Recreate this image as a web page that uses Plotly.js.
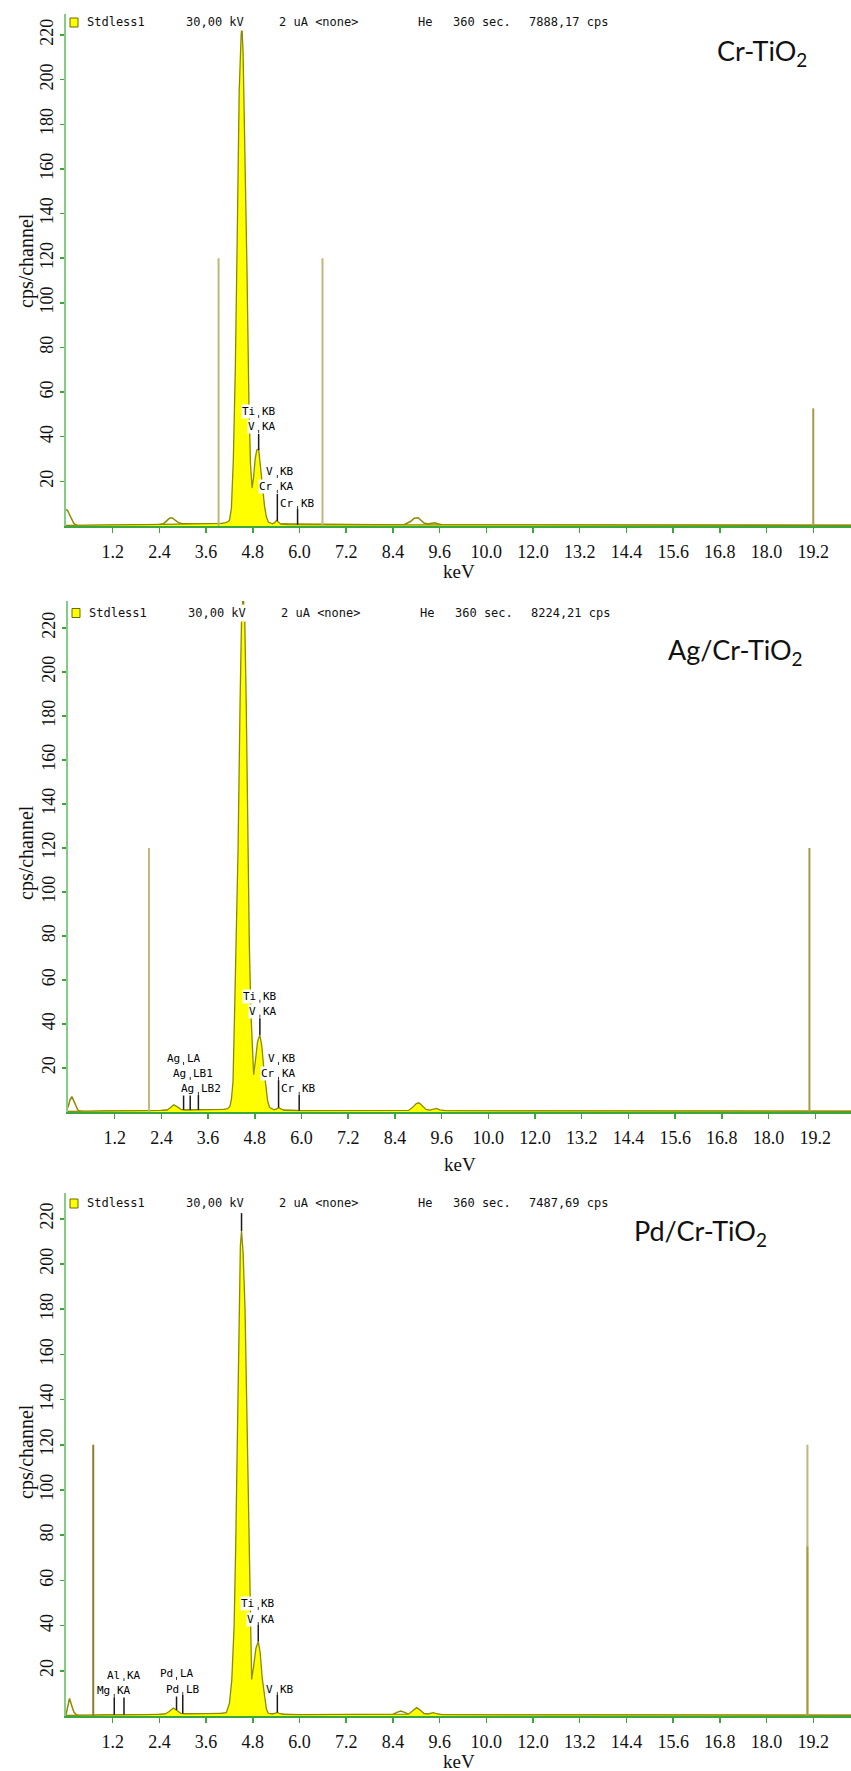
<!DOCTYPE html>
<html>
<head>
<meta charset="utf-8">
<script src="https://cdn.plot.ly/plotly-3.0.1.min.js"></script>
<style>html,body{margin:0;padding:0;background:#fff;}#chart{width:851px;height:1771px;}</style>
</head>
<body>
<div id="chart"></div>
<script>
// ---------------- DATA ----------------
const tickKeV  = [1.2, 2.4, 3.6, 4.8, 6.0, 7.2, 8.4, 9.6, 10.8, 12.0, 13.2, 14.4, 15.6, 16.8, 18.0, 19.2];
const tickText = ['1.2','2.4','3.6','4.8','6.0','7.2','8.4','9.6','10.0','12.0','13.2','14.4','15.6','16.8','18.0','19.2'];
const yTickVals = [20, 40, 60, 80, 100, 120, 140, 160, 180, 200, 220];

// Panel 1 : Cr-TiO2
const crFillKeV = [0.0,0.3,1.0,2.0,2.5,3.0,3.6,4.0,4.1,4.15,4.2,4.25,4.3,4.35,4.4,4.45,4.5,4.52,4.55,4.6,4.65,4.7,4.74,4.78,4.82,4.86,4.9,4.95,5.0,5.05,5.1,5.15,5.2,5.3,5.36,5.41,5.46,5.52,5.7,6.5,8.0,10.0,14.0,19.2,20.2];
const crFillCps = [0.3,0.3,0.5,0.6,0.7,0.8,1.0,1.2,1.5,1.8,2.5,8,30,70,130,195,220,224,212,170,115,55,28,17,22,30,34,34.5,26,16,9,4,1.8,1.0,1.5,2.5,1.8,0.8,0.6,0.5,0.5,0.5,0.4,0.3,0.3];
const crBgKeV = [0.0,0.04,0.08,0.12,0.16,0.2,0.25,0.3,0.4,0.6,1.0,1.5,2.0,2.4,2.5,2.58,2.65,2.72,2.8,2.88,2.96,3.1,3.6,4.0,4.5,5.0,5.5,6.0,7.0,8.0,8.7,8.85,8.95,9.05,9.12,9.2,9.3,9.4,9.47,9.55,9.65,10.0,12.0,15.0,19.2,20.2];
const crBgCps  = [7.5,7.0,5.5,3.8,2.2,1.2,0.5,0.2,0.1,0.2,0.4,0.5,0.6,0.7,1.0,2.2,3.4,3.7,2.8,1.6,1.1,1.0,1.0,1.1,1.1,1.0,0.9,0.7,0.6,0.6,0.7,2.0,3.5,3.7,2.6,1.3,0.9,1.1,1.4,1.0,0.6,0.5,0.5,0.4,0.3,0.3];
const crRoiKeV = [3.92, 6.59, 19.2];
const crRoiCps = [120, 120, 52.7];
const crMarkKeV  = [4.95, 5.43, 5.95];
const crMarkBase = [34, 2.3, 0.6];
const crMarkTop  = [41.3, 14.4, 7.6];
const crLabElem = ['Ti','V','V','Cr','Cr'];
const crLabLine = ['KB','KA','KB','KA','KB'];
const crLabKeV  = [4.95, 4.95, 5.43, 5.43, 5.95];
const crLabCps  = [51.1, 44.4, 24.2, 17.5, 10.3];
const crHeader  = ['Stdless1','30,00 kV','2 uA <none>','He','360 sec.','7888,17 cps'];

// Panel 2 : Ag/Cr-TiO2
const agFillKeV = [0.0,0.5,1.0,2.0,2.4,2.55,2.62,2.72,2.82,2.9,3.0,3.6,4.0,4.1,4.16,4.2,4.24,4.28,4.32,4.37,4.42,4.46,4.5,4.54,4.58,4.62,4.66,4.7,4.74,4.77,4.82,4.87,4.93,4.98,5.03,5.08,5.13,5.18,5.3,5.36,5.41,5.47,5.55,6.0,8.0,8.75,8.85,8.95,9.02,9.1,9.2,9.3,9.4,9.47,9.55,9.7,12.0,16.0,20.2];
const agFillCps = [0.3,0.3,0.5,0.6,0.7,0.9,1.8,3.3,2.2,1.2,0.9,1.0,1.2,1.5,2.5,6,14,45,75,120,185,225,235,225,185,120,75,45,25,17,24,32,35,30,20,11,5,2,1.0,1.4,2.0,1.4,0.8,0.6,0.6,0.7,2.0,3.8,4.2,3.0,1.2,0.9,1.3,1.6,1.0,0.6,0.5,0.4,0.3];
const agBgKeV = [0.0,0.05,0.1,0.15,0.2,0.25,0.3,0.4,0.6,1.0,2.0,2.5,3.0,3.6,4.0,4.5,5.0,5.5,6.0,8.0,10.0,14.0,19.2,20.2];
const agBgCps = [2.0,5.5,7.0,5.0,2.5,1.0,0.4,0.2,0.2,0.4,0.5,0.8,0.9,1.0,1.1,1.1,1.0,0.8,0.6,0.5,0.5,0.4,0.3,0.3];
const agRoiKeV = [2.08, 19.05];
const agRoiCps = [120, 120];
const agMarkKeV  = [4.93, 5.41, 5.94, 2.97, 3.14, 3.35];
const agMarkBase = [35, 2.0, 0.6, 1.0, 0.9, 0.9];
const agMarkTop  = [42.6, 14.5, 7.7, 7.7, 7.7, 7.7];
const agLabElem = ['Ti','V','V','Cr','Cr','Ag','Ag','Ag'];
const agLabLine = ['KB','KA','KB','KA','KB','LA','LB1','LB2'];
const agLabKeV  = [4.93, 4.93, 5.41, 5.41, 5.94, 2.97, 3.14, 3.35];
const agLabCps  = [52.4, 45.6, 24.1, 17.3, 10.5, 24.1, 17.3, 10.5];
const agHeader  = ['Stdless1','30,00 kV','2 uA <none>','He','360 sec.','8224,21 cps'];

// Panel 3 : Pd/Cr-TiO2
const pdFillKeV = [0.0,0.5,1.0,2.0,2.4,2.55,2.65,2.76,2.86,2.95,3.05,3.6,4.0,4.12,4.2,4.26,4.32,4.36,4.4,4.44,4.48,4.51,4.55,4.6,4.66,4.7,4.73,4.75,4.77,4.82,4.88,4.94,4.99,5.04,5.1,5.15,5.2,5.3,5.38,5.43,5.5,5.6,6.0,8.0,8.8,8.9,9.01,9.1,9.2,9.3,9.38,9.44,9.52,9.65,12.0,16.0,20.2];
const pdFillCps = [0.3,0.3,0.5,0.6,0.7,0.9,2.0,3.5,2.3,1.2,1.0,1.0,1.2,1.5,5.7,16,40,75,120,180,208,214.6,205,180,120,75,50,28,16.2,22,30,33,28,17,8,3,1.2,0.9,1.3,1.6,1.0,0.7,0.6,0.6,0.8,2.2,3.7,2.6,1.1,0.9,1.2,1.5,1.0,0.6,0.5,0.4,0.3];
const pdBgKeV = [0.0,0.04,0.09,0.14,0.2,0.27,0.35,0.6,1.0,2.0,3.0,4.0,5.0,6.0,8.0,8.4,8.5,8.6,8.7,8.8,9.0,10.0,14.0,19.2,20.2];
const pdBgCps = [0.5,4.5,7.8,5.0,1.8,0.4,0.2,0.2,0.4,0.5,0.9,1.1,1.0,0.6,0.6,0.7,1.6,2.2,1.6,0.8,0.7,0.5,0.4,0.3,0.3];
const pdRoiKeV = [0.70, 19.05, 19.05];
const pdRoiCps = [120, 120, 75];
const pdMarkKeV  = [4.51, 4.94, 5.43, 2.84, 3.00, 1.49, 1.24];
const pdMarkBase = [214.6, 33, 1.6, 2.6, 1.1, 0.5, 0.5];
const pdMarkTop  = [222.5, 40.3, 9.3, 10.0, 9.3, 10.8, 8.3];
const pdLabElem = ['Ti','V','V','Pd','Pd','Al','Mg'];
const pdLabLine = ['KB','KA','KB','LA','LB','KA','KA'];
const pdLabKeV  = [4.94, 4.94, 5.43, 2.84, 3.00, 1.49, 1.24];
const pdLabCps  = [49.6, 42.9, 11.9, 18.6, 11.9, 18.1, 11.1];
const pdHeader  = ['Stdless1','30,00 kV','2 uA <none>','He','360 sec.','7487,69 cps'];

const sampleNames = ['Cr-TiO<sub>2</sub>', 'Ag/Cr-TiO<sub>2</sub>', 'Pd/Cr-TiO<sub>2</sub>'];

// ---------------- LAYOUT / STYLE ----------------
const W = 851, H = 1771;
const px = v => v / W;
const py = v => 1 - v / H;

const panels = [
  {top: 14,   bottom: 526,  left: 66,   yMax: 229.4, headerY: 22,     sqTop: 18,   titleY: 261,  kevY: 571,  sample: [762, 53],
   fillE: crFillKeV, fillC: crFillCps, bgE: crBgKeV, bgC: crBgCps, roiE: crRoiKeV, roiC: crRoiCps, roiColors: ['#bdb97a','#bdb97a','#a39d45'],
   mE: crMarkKeV, mB: crMarkBase, mT: crMarkTop, lEl: crLabElem, lLn: crLabLine, lE: crLabKeV, lC: crLabCps, header: crHeader},
  {top: 601,  bottom: 1112, left: 68,   yMax: 232.3, headerY: 612.5,  sqTop: 608.5, titleY: 853,  kevY: 1164, sample: [735, 651],
   fillE: agFillKeV, fillC: agFillCps, bgE: agBgKeV, bgC: agBgCps, roiE: agRoiKeV, roiC: agRoiCps, roiColors: ['#bdb97a','#a39d45'],
   mE: agMarkKeV, mB: agMarkBase, mT: agMarkTop, lEl: agLabElem, lLn: agLabLine, lE: agLabKeV, lC: agLabCps, header: agHeader},
  {top: 1193, bottom: 1716, left: 66,   yMax: 231.4, headerY: 1203.3, sqTop: 1199, titleY: 1452, kevY: 1761, sample: [700, 1232],
   fillE: pdFillKeV, fillC: pdFillCps, bgE: pdBgKeV, bgC: pdBgCps, roiE: pdRoiKeV, roiC: pdRoiCps, roiColors: ['#8a7f2c','#bdb97a','#a39d45'],
   mE: pdMarkKeV, mB: pdMarkBase, mT: pdMarkTop, lEl: pdLabElem, lLn: pdLabLine, lE: pdLabKeV, lC: pdLabCps, header: pdHeader}
];
const headerX = [85, 184, 277, 416, 451, 527];
const keVPerPx = 1 / 38.92;

const OLIVE = '#8c8a00';
const serif = 'Liberation Serif, Times New Roman, serif';
const mono = 'DejaVu Sans Mono, monospace';

const traces = [];
const layout = {
  width: W, height: H,
  margin: {l: 0, r: 0, t: 0, b: 0},
  paper_bgcolor: '#fff', plot_bgcolor: '#fff',
  showlegend: false,
  annotations: [], shapes: []
};

panels.forEach((p, i) => {
  const n = i === 0 ? '' : String(i + 1);
  const xa = 'x' + n, ya = 'y' + n;
  const xMax = (W - p.left) * keVPerPx;

  layout['xaxis' + n] = {
    domain: [px(p.left), 1], range: [0, xMax], anchor: ya,
    tickmode: 'array', tickvals: tickKeV, ticktext: tickText,
    ticks: 'outside', ticklen: 5, tickwidth: 1.5, tickcolor: '#3aa83a',
    showline: true, linecolor: '#3aa83a', linewidth: 1.5,
    showgrid: false, zeroline: false, fixedrange: true,
    tickfont: {family: serif, size: 18, color: '#111'},
    ticklabelstandoff: 4
  };
  layout['yaxis' + n] = {
    domain: [py(p.bottom), py(p.top)], range: [0, p.yMax], anchor: xa,
    tickmode: 'array', tickvals: yTickVals, tickangle: -90,
    ticks: 'outside', ticklen: 4, tickwidth: 1.5, tickcolor: '#3aa83a',
    showline: true, linecolor: '#86cc86', linewidth: 2,
    showgrid: false, zeroline: false, fixedrange: true,
    tickfont: {family: serif, size: 18, color: '#111'}
  };

  // background / outline spectrum
  traces.push({x: p.bgE, y: p.bgC, xaxis: xa, yaxis: ya, mode: 'lines', line: {color: OLIVE, width: 1.5}, hoverinfo: 'skip'});
  // filled spectrum
  traces.push({x: p.fillE, y: p.fillC, xaxis: xa, yaxis: ya, mode: 'lines', fill: 'tozeroy', fillcolor: '#ffff00',
               line: {color: OLIVE, width: 1.3}, hoverinfo: 'skip'});
  // ROI cursor lines
  p.roiE.forEach((e, k) => {
    traces.push({x: [e, e], y: [0, p.roiC[k]], xaxis: xa, yaxis: ya, mode: 'lines',
                 line: {color: p.roiColors[k], width: 2}, hoverinfo: 'skip'});
  });
  // KLM marker lines
  const mx = [], my = [];
  p.mE.forEach((e, k) => { mx.push(e, e, null); my.push(p.mB[k], p.mT[k], null); });
  traces.push({x: mx, y: my, xaxis: xa, yaxis: ya, mode: 'lines', line: {color: '#1a1a1a', width: 1.5}, hoverinfo: 'skip'});

  // marker labels
  p.lE.forEach((e, k) => {
    layout.annotations.push({xref: xa, yref: ya, x: e, y: p.lC[k], text: p.lEl[k], showarrow: false,
      xanchor: 'right', yanchor: 'middle', xshift: -3, font: {family: mono, size: 11, color: '#000'}, bgcolor: '#fff', borderpad: 0});
    layout.annotations.push({xref: xa, yref: ya, x: e, y: p.lC[k], text: p.lLn[k], showarrow: false,
      xanchor: 'left', yanchor: 'middle', xshift: 2, font: {family: mono, size: 11, color: '#000'}, bgcolor: '#fff', borderpad: 0});
    // small tick at the marker energy, at the foot of the label
    layout.shapes.push({type: 'line', xref: xa, yref: ya, xsizemode: 'scaled', ysizemode: 'pixel',
      x0: e, x1: e, yanchor: p.lC[k], y0: -3, y1: -6, line: {color: '#333', width: 1}});
  });

  // header line
  p.header.forEach((t, k) => {
    layout.annotations.push({xref: 'paper', yref: 'paper', x: px(headerX[k] + (i === 1 ? 2 : 0)), y: py(p.headerY), text: t,
      showarrow: false, xanchor: 'left', yanchor: 'middle', font: {family: mono, size: 12, color: '#111'}, bgcolor: '#fff', borderpad: 1});
  });
  const sqL = 70 + (i === 1 ? 2 : 0);
  layout.shapes.push({type: 'rect', xref: 'paper', yref: 'paper', x0: px(sqL), x1: px(sqL + 8), y0: py(p.sqTop), y1: py(p.sqTop + 9),
                      fillcolor: '#ffff00', line: {color: '#6b6b00', width: 1}});

  // axis titles
  layout.annotations.push({xref: 'paper', yref: 'paper', x: px(26), y: py(p.titleY), text: 'cps/channel', textangle: -90,
    showarrow: false, xanchor: 'center', yanchor: 'middle', font: {family: serif, size: 20, color: '#111'}});
  layout.annotations.push({xref: 'paper', yref: 'paper', x: px((p.left + W) / 2), y: py(p.kevY), text: 'keV',
    showarrow: false, xanchor: 'center', yanchor: 'middle', font: {family: serif, size: 19, color: '#111'}});

  // sample label
  layout.annotations.push({xref: 'paper', yref: 'paper', x: px(p.sample[0]), y: py(p.sample[1]), text: sampleNames[i],
    showarrow: false, xanchor: 'center', yanchor: 'middle', font: {family: 'Lato, Open Sans, sans-serif', size: 27, color: '#111'}});
});

Plotly.newPlot('chart', traces, layout, {staticPlot: true, displayModeBar: false});
</script>
</body>
</html>
